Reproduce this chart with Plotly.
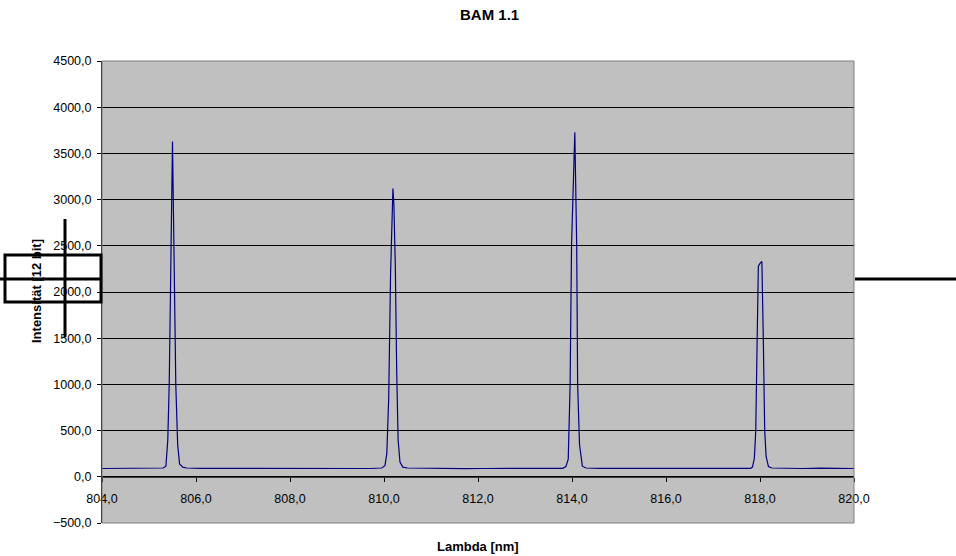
import plotly.graph_objects as go

# ---- data ----
wavelength_nm = [
    804.0, 804.3, 804.6, 804.9, 805.1, 805.3, 805.36, 805.40, 805.43, 805.47, 805.50, 805.53,
    805.57, 805.61, 805.65, 805.72, 805.80, 806.1, 806.5, 806.9, 807.3, 807.7, 808.1, 808.5,
    808.9, 809.3, 809.7, 809.95, 810.02, 810.06, 810.10, 810.14, 810.17, 810.19, 810.21,
    810.24, 810.27, 810.30, 810.34, 810.40, 810.5, 810.9, 811.3, 811.7, 812.1, 812.5, 812.9,
    813.3, 813.6, 813.80, 813.87, 813.92, 813.96, 813.99, 814.06, 814.10, 814.12, 814.16,
    814.22, 814.30, 814.6, 815.0, 815.4, 815.8, 816.2, 816.6, 817.0, 817.4, 817.80, 817.84,
    817.88, 817.91, 817.94, 817.965, 818.00, 818.04, 818.07, 818.10, 818.13, 818.18, 818.25,
    818.5, 818.9, 819.3, 819.7, 820.0,
]
intensity = [
    90, 91, 89, 90, 92, 95, 115, 400, 1000, 2500, 3630, 2500,
    1000, 350, 140, 105, 95, 91, 90, 89, 90, 91, 90, 90,
    89, 91, 90, 95, 120, 250, 850, 2200, 2950, 3120, 2950,
    2300, 1150, 400, 160, 105, 95, 91, 90, 89, 90, 91, 90,
    90, 91, 92, 110, 190, 1000, 2500, 3730, 2500, 1000, 350,
    115, 95, 91, 90, 89, 90, 91, 90, 90, 91, 92, 105,
    200, 500, 1500, 2280, 2310, 2330, 1500, 500, 220, 110, 95,
    91, 90, 93, 90, 90,
]

x_range = [804, 820]
y_range = [-500, 4500]
title_text = "BAM 1.1"
x_title = "Lambda [nm]"
y_title = "Intensität [12 bit]"

# ---- layout geometry ----
W, H = 956, 556
ML, MR, MT, MB = 102, 102, 61, 33
PW, PH = W - ML - MR, H - MT - MB


def px(x):
    return (x - ML) / PW


def py(y):
    return (H - MB - y) / PH


FONT = "Arial, Liberation Sans, sans-serif"
TICK_SIZE = 12.5

fig = go.Figure()
fig.add_trace(go.Scatter(
    x=wavelength_nm, y=intensity, mode="lines",
    line=dict(color="#000080", width=1.2),
    hoverinfo="skip", showlegend=False,
))

zero_pos = (0 - y_range[0]) / (y_range[1] - y_range[0])

fig.update_layout(
    width=W, height=H,
    margin=dict(l=ML, r=MR, t=MT, b=MB, pad=0),
    paper_bgcolor="white",
    plot_bgcolor="#C0C0C0",
    separators=",.",
    font=dict(family=FONT, size=11, color="black"),
    showlegend=False,
    xaxis=dict(
        range=x_range, dtick=2, tick0=804, tickformat=".1f",
        showgrid=False, zeroline=False,
        showline=True, linecolor="#404040", linewidth=1,
        ticks="outside", ticklen=4, tickcolor="black",
        anchor="free", position=zero_pos,
        ticklabelstandoff=6,
        tickfont=dict(family=FONT, size=TICK_SIZE),
    ),
    yaxis=dict(
        range=y_range, dtick=500, tick0=-500, tickformat=".1f",
        showgrid=True, gridcolor="black", gridwidth=1,
        zeroline=False,
        showline=True, linecolor="black", linewidth=1,
        ticks="outside", ticklen=4, tickcolor="black",
        ticklabelstandoff=3,
        tickfont=dict(family=FONT, size=TICK_SIZE),
    ),
    annotations=[
        dict(text="<b>" + title_text + "</b>", xref="paper", yref="paper",
             x=px(489), y=py(15), showarrow=False, font=dict(size=15, family=FONT),
             xanchor="center", yanchor="middle"),
        dict(text="<b>" + x_title + "</b>", xref="paper", yref="paper",
             x=px(477.5), y=py(546), showarrow=False, font=dict(size=13, family=FONT),
             xanchor="center", yanchor="middle"),
        dict(text="<b>" + y_title + "</b>", xref="paper", yref="paper",
             x=px(36), y=py(291), showarrow=False, textangle=-90,
             font=dict(size=13, family=FONT),
             xanchor="center", yanchor="middle"),
    ],
    shapes=[
        # plot-area border
        dict(type="rect", xref="paper", yref="paper", x0=0, x1=1, y0=0, y1=1,
             line=dict(color="#808080", width=1), layer="above"),
        # stray cursor / selection marks present in the reference image
        dict(type="line", xref="paper", yref="paper", x0=px(0), x1=px(102),
             y0=py(279), y1=py(279), line=dict(color="black", width=3)),
        dict(type="line", xref="paper", yref="paper", x0=px(855), x1=px(956),
             y0=py(279), y1=py(279), line=dict(color="black", width=3)),
        dict(type="rect", xref="paper", yref="paper", x0=px(5), x1=px(101),
             y0=py(255), y1=py(302), line=dict(color="black", width=3)),
        dict(type="line", xref="paper", yref="paper", x0=px(65), x1=px(65),
             y0=py(219), y1=py(337), line=dict(color="black", width=3)),
    ],
)

fig.write_html("out.html")
